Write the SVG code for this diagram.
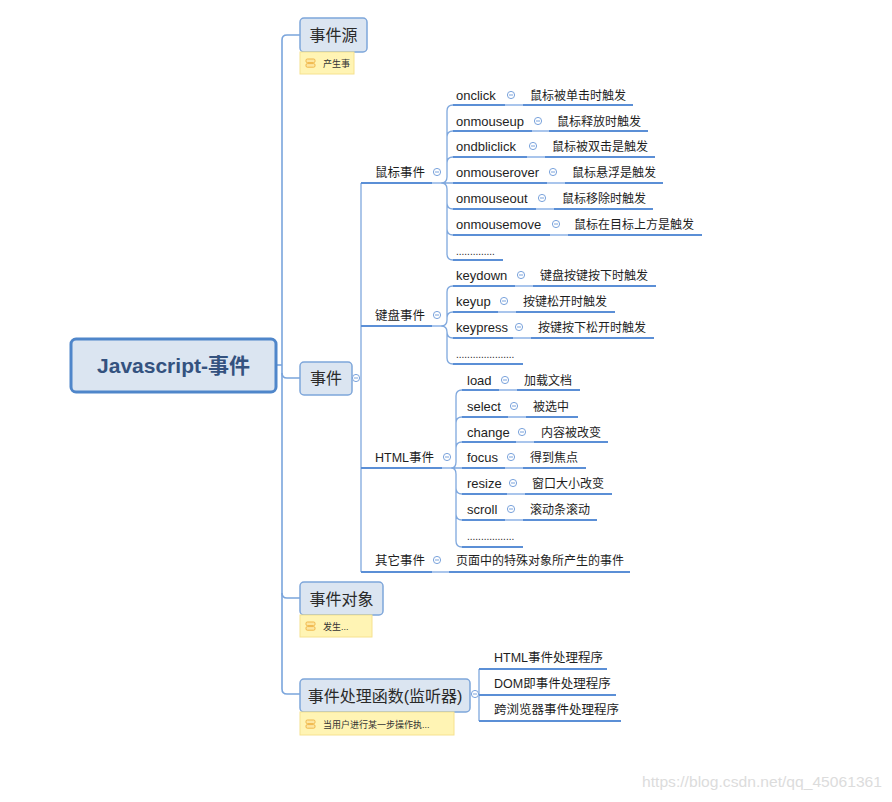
<svg xmlns="http://www.w3.org/2000/svg" xmlns:xlink="http://www.w3.org/1999/xlink" width="892" height="802" viewBox="0 0 892 802">
<style>
text{font-family:"Liberation Sans","Noto Sans CJK SC",sans-serif;fill:#1e1e1e}
.top{font-size:16px;fill:#2a2a2a}
.root{font-size:21px;font-weight:bold;fill:#34527f}
.l2{font-size:12.5px}
.l3{font-size:13px}
.h3{font-size:12.5px}
.d{font-size:12px}
.dots{font-size:10px}
.note{font-size:9px;fill:#333}
.wm{font-size:14.5px;fill:#dcdcdc}
.node{fill:#dbe5f1;stroke:#7ea6da;stroke-width:1.5}
.rootbox{fill:#dbe5f1;stroke:#4f86ca;stroke-width:3}
.notebox{fill:#fff4b4;stroke:#f6e28f;stroke-width:1}
.trunk{fill:none;stroke:#7aa5dc;stroke-width:1.6}
.thin{fill:none;stroke:#7fa8de;stroke-width:1.3}
.ul{fill:none;stroke:#5b8fd6;stroke-width:2}
.lt{fill:none;stroke:#a9c5ec;stroke-width:2}
.ico{fill:#fde6a0;stroke:#f0b74a;stroke-width:1}
</style>
<defs>
<g id="minus"><circle r="3.6" fill="#fff" stroke="#7aa3dc" stroke-width="1"/><line x1="-2" y1="0" x2="2" y2="0" stroke="#7aa3dc" stroke-width="1"/></g>
<g id="noteicon"><rect x="0" y="0" width="9" height="3.6" rx="1.3" class="ico"/><rect x="0" y="4.6" width="9" height="3.6" rx="1.3" class="ico"/></g>
</defs>

<g id="connectors">
<path class="trunk" d="M300,35 H287 Q282,35 282,40 V689 Q282,694 287,694 H300"/>
<path class="trunk" d="M282,373 Q282,378 287,378 H300"/>
<path class="trunk" d="M282,593 Q282,598 287,598 H300"/>
<path class="trunk" d="M277,365 H282"/>
<path class="thin" d="M361,183 V572"/>
<path class="thin" d="M479,669 V721 M475,694 H479"/>
<path class="ul" d="M479,669 H607 M479,695 H616 M479,721 H621"/>
<path class="ul" d="M361,183 H432 M361,326 H432 M361,468 H442 M361,572 H432 M449,572 H630"/>
<path class="lt" d="M432,183 H441 M432,326 H441 M442,468 H451 M432,572 H449"/>
<path class="thin" d="M441,183 Q447,183 447,177 V111 Q447,105 453,105 M441,183 Q447,183 447,177 V137 Q447,131 453,131 M441,183 Q447,183 447,177 V163 Q447,157 453,157 M441,183 H453 M441,183 Q447,183 447,189 V203 Q447,209 453,209 M441,183 Q447,183 447,189 V229 Q447,235 453,235 M441,183 Q447,183 447,189 V254 Q447,260 453,260"/>
<path class="ul" d="M453,105 H505 M523,105 H633 M453,131 H532 M549,131 H648 M453,157 H527 M545,157 H655 M453,183 H547 M565,183 H663 M453,209 H536 M554,209 H653 M453,235 H550 M568,235 H702 M453,260 H503"/>
<path class="lt" d="M505,105 H523 M532,131 H549 M527,157 H545 M547,183 H565 M536,209 H554 M550,235 H568"/>
<path class="thin" d="M441,326 Q447,326 447,320 V292 Q447,286 453,286 M441,326 Q447,326 447,320 V318 Q447,312 453,312 M441,326 Q447,326 447,332 Q447,338 453,338 M441,326 Q447,326 447,332 V358 Q447,364 453,364"/>
<path class="ul" d="M453,286 H515 M533,286 H656 M453,312 H498 M516,312 H615 M453,338 H513 M531,338 H654 M453,364 H523"/>
<path class="lt" d="M515,286 H533 M498,312 H516 M513,338 H531"/>
<path class="thin" d="M451,468 Q456,468 456,462 V396 Q456,390 462,390 M451,468 Q456,468 456,462 V423 Q456,417 462,417 M451,468 Q456,468 456,462 V448 Q456,442 462,442 M451,468 H462 M451,468 Q456,468 456,474 V488 Q456,494 462,494 M451,468 Q456,468 456,474 V514 Q456,520 462,520 M451,468 Q456,468 456,474 V541 Q456,547 462,547"/>
<path class="ul" d="M462,390 H499 M517,390 H580 M462,417 H508 M526,417 H578 M462,442 H516 M534,442 H608 M462,468 H505 M523,468 H586 M462,494 H507 M525,494 H612 M462,520 H505 M523,520 H597 M462,547 H523"/>
<path class="lt" d="M499,390 H517 M508,417 H526 M516,442 H534 M505,468 H523 M507,494 H525 M505,520 H523"/>
</g>

<g id="root">
<rect class="rootbox" x="71" y="339" width="205" height="53" rx="5"/>
<text class="root" x="173.5" y="373" text-anchor="middle">Javascript-事件</text>
</g>

<g id="node-source">
<rect class="node" x="300" y="18" width="67" height="34" rx="4"/>
<text class="top" x="333.5" y="41" text-anchor="middle">事件源</text>
<rect class="notebox" x="300" y="52" width="54" height="22"/>
<use xlink:href="#noteicon" x="306" y="59"/>
<text class="note" x="323" y="67">产生事</text>
</g>

<g id="node-event">
<rect class="node" x="300" y="362" width="52" height="33" rx="4"/>
<text class="top" x="326" y="384" text-anchor="middle">事件</text>
<use xlink:href="#minus" x="356" y="378"/>
</g>

<g id="node-mouse">
<text class="l2" x="375" y="176.5">鼠标事件</text>
<use xlink:href="#minus" x="437" y="172"/>
</g>
<g id="mouse-children">
<text class="l3" x="456" y="99.5">onclick</text><use xlink:href="#minus" x="511" y="95"/><text class="d" x="530" y="99.5">鼠标被单击时触发</text>
<text class="l3" x="456" y="125.5">onmouseup</text><use xlink:href="#minus" x="538" y="121"/><text class="d" x="557" y="125.5">鼠标释放时触发</text>
<text class="l3" x="456" y="150.5">ondbliclick</text><use xlink:href="#minus" x="533" y="146"/><text class="d" x="552" y="150.5">鼠标被双击是触发</text>
<text class="l3" x="456" y="176.5">onmouserover</text><use xlink:href="#minus" x="553" y="172"/><text class="d" x="572" y="176.5">鼠标悬浮是触发</text>
<text class="l3" x="456" y="202.5">onmouseout</text><use xlink:href="#minus" x="542" y="198"/><text class="d" x="562" y="202.5">鼠标移除时触发</text>
<text class="l3" x="456" y="228.5">onmousemove</text><use xlink:href="#minus" x="556" y="224"/><text class="d" x="574" y="228.5">鼠标在目标上方是触发</text>
<text class="dots" x="456" y="255">..............</text>
</g>

<g id="node-keyboard">
<text class="l2" x="375" y="319.5">键盘事件</text>
<use xlink:href="#minus" x="437" y="315"/>
</g>
<g id="keyboard-children">
<text class="l3" x="456" y="279.5">keydown</text><use xlink:href="#minus" x="521" y="275"/><text class="d" x="540" y="279.5">键盘按键按下时触发</text>
<text class="l3" x="456" y="305.5">keyup</text><use xlink:href="#minus" x="504" y="301"/><text class="d" x="523" y="305.5">按键松开时触发</text>
<text class="l3" x="456" y="331.5">keypress</text><use xlink:href="#minus" x="519" y="327"/><text class="d" x="538" y="331.5">按键按下松开时触发</text>
<text class="dots" x="456" y="358">.....................</text>
</g>

<g id="node-html">
<text class="l2" x="375" y="461.5">HTML事件</text>
<use xlink:href="#minus" x="447" y="457"/>
</g>
<g id="html-children">
<text class="l3" x="467" y="384.5">load</text><use xlink:href="#minus" x="505" y="380"/><text class="d" x="524" y="384.5">加载文档</text>
<text class="l3" x="467" y="410.5">select</text><use xlink:href="#minus" x="514" y="406"/><text class="d" x="533" y="410.5">被选中</text>
<text class="l3" x="467" y="436.5">change</text><use xlink:href="#minus" x="522" y="432"/><text class="d" x="541" y="436.5">内容被改变</text>
<text class="l3" x="467" y="461.5">focus</text><use xlink:href="#minus" x="511" y="457"/><text class="d" x="530" y="461.5">得到焦点</text>
<text class="l3" x="467" y="487.5">resize</text><use xlink:href="#minus" x="513" y="483"/><text class="d" x="532" y="487.5">窗口大小改变</text>
<text class="l3" x="467" y="513.5">scroll</text><use xlink:href="#minus" x="511" y="509"/><text class="d" x="530" y="513.5">滚动条滚动</text>
<text class="dots" x="467" y="540">.................</text>
</g>

<g id="node-other">
<text class="l2" x="375" y="564.5">其它事件</text>
<use xlink:href="#minus" x="437" y="560"/>
<text class="d" x="456" y="564.5">页面中的特殊对象所产生的事件</text>
</g>

<g id="node-eventobject">
<rect class="node" x="300" y="582" width="83" height="33" rx="4"/>
<text class="top" x="341.5" y="604.5" text-anchor="middle">事件对象</text>
<rect class="notebox" x="300" y="615" width="72" height="22"/>
<use xlink:href="#noteicon" x="306" y="622"/>
<text class="note" x="323" y="630">发生...</text>
</g>

<g id="node-handler">
<rect class="node" x="300" y="679" width="170" height="33" rx="4"/>
<text class="top" x="385" y="701.5" text-anchor="middle">事件处理函数(监听器)</text>
<use xlink:href="#minus" x="475" y="694"/>
<rect class="notebox" x="300" y="712" width="154" height="23"/>
<use xlink:href="#noteicon" x="306" y="720"/>
<text class="note" x="323" y="728">当用户进行某一步操作执...</text>
</g>

<g id="handler-children">
<text class="h3" x="494" y="661.5">HTML事件处理程序</text>
<text class="h3" x="494" y="687.5">DOM即事件处理程序</text>
<text class="h3" x="494" y="713.5">跨浏览器事件处理程序</text>
</g>

<text class="wm" x="642" y="787" textLength="240" lengthAdjust="spacingAndGlyphs">https://blog.csdn.net/qq_45061361</text>
</svg>
